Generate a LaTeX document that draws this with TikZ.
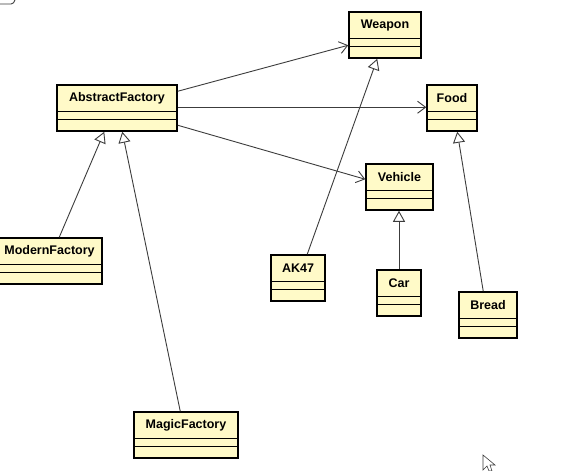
\documentclass[tikz,border=0pt]{standalone}
\usepackage{fontspec}
\setmainfont{Liberation Sans}
\usetikzlibrary{arrows.meta,calc,fit}
\definecolor{clsfill}{RGB}{255,250,200}
\definecolor{linegray}{RGB}{60,60,60}
\tikzset{
  clsbox/.style={draw=black, line width=1.5pt, fill=clsfill, inner sep=0pt},
  clstext/.style={font=\fontsize{12.5}{14}\selectfont\bfseries, inner sep=0pt, anchor=center},
  sepline/.style={draw=black, line width=1.1pt},
  assoc/.style={draw=linegray, line width=0.9pt, -{Straight Barb[length=8pt,width=12pt,line width=0.9pt]}},
  inherit/.style={draw=linegray, line width=0.9pt, -{Triangle[open,length=11pt,width=12pt,line width=0.9pt,fill=white]}},
}
% #1 name, #2 left x, #3 right x, #4 top y, #5 text  (y grows downward)
\newcommand{\umlclass}[5]{%
  \node[clsbox, fit={(#2,#4) (#3,#4+46)}] (#1) {};
  \node[clstext] (#1-t) at ($(#1.north)+(0,14)$) {#5};
  \draw[sepline] ($(#1.north west)+(0,27)$) -- ($(#1.north east)+(0,27)$);
  \draw[sepline] ($(#1.north west)+(0,35)$) -- ($(#1.north east)+(0,35)$);
}
\begin{document}
\begin{tikzpicture}[x=1pt,y=-1pt]
\useasboundingbox (0,0) rectangle (587,471);
\fill[white] (0,0) rectangle (587,471);
% top-left fragment
\draw[linegray, line width=0.9pt] (0,4) -- (11,4) to[out=0,in=250] (15,0);
\umlclass{af}{57}{177}{85}{AbstractFactory}
\umlclass{weapon}{349}{421}{12}{Weapon}
\umlclass{food}{427}{477}{85}{Food}
\umlclass{vehicle}{366}{433}{164}{Vehicle}
\umlclass{ak}{271}{325}{255}{AK47}
\umlclass{car}{377}{421}{270}{Car}
\umlclass{bread}{459}{517}{292}{Bread}
\umlclass{modern}{-3}{102}{238}{ModernFactory}
\umlclass{magic}{134}{238}{412}{MagicFactory}
% associations
\draw[assoc] ($(af.north east)+(0,7)$) -- ($(weapon.north west)+(0,34)$);
\draw[assoc] ($(af.north east)+(0,23)$) -- ($(food.north west)+(0,23)$);
\draw[assoc] ($(af.north east)+(0,41)$) -- ($(vehicle.north west)+(0,16)$);
% inheritance
\draw[inherit] ($(modern.north west)+(63,0)$) -- ($(af.south west)+(48,0)$);
\draw[inherit] ($(magic.north west)+(47,0)$) -- ($(af.south west)+(66,0)$);
\draw[inherit] ($(ak.north west)+(37,0)$) -- ($(weapon.south west)+(29,0)$);
\draw[inherit] (car.north) -- (car.north |- vehicle.south);
\draw[inherit] ($(bread.north west)+(25,0)$) -- ($(food.south west)+(31,0)$);
% mouse cursor
\draw[linegray, line width=0.6pt, fill=white] (483,455) -- (483,470) -- (487,466) -- (489,471) -- (492,471) -- (490,465) -- (495,465) -- cycle;
\end{tikzpicture}
\end{document}
